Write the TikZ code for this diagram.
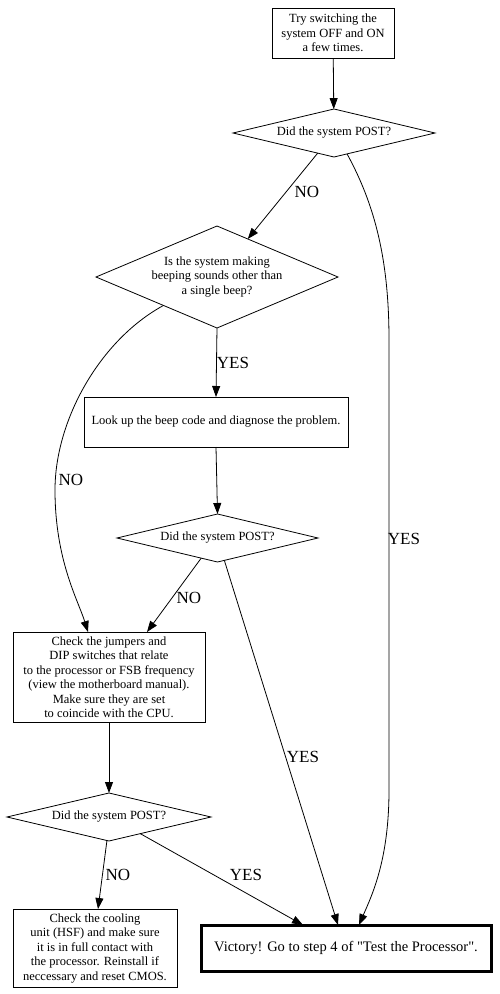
\documentclass[tikz,border=0pt]{standalone}
\usepackage{fontspec}
\setmainfont{Liberation Serif}
\newfontfamily\vicfont{Liberation Serif}
\usetikzlibrary{shapes.geometric,arrows.meta}
\begin{document}
\begin{tikzpicture}[x=1pt,y=-1pt,
  every node/.style={inner sep=0pt, outer sep=0pt},
  txt/.style={font=\fontsize{12.5}{14.5}\selectfont},
  box/.style={draw, line width=0.8pt, rectangle, align=center, txt},
  dia/.style={draw, line width=0.8pt, diamond, align=center, txt},
  lbl/.style={font=\fontsize{17}{20}\selectfont},
  arr/.style={line width=0.8pt, -{Triangle[length=11pt,width=8pt]}},
]
\useasboundingbox (0,0) rectangle (499,994);

\node[box, minimum width=122pt, minimum height=50pt] (top) at (333,33)
  {Try switching the\\system OFF and ON\\a few times.};
\node[dia, aspect=4.2, minimum width=202pt, minimum height=48pt] (d1) at (334,133)
  {Did the system POST?};
\node[dia, aspect=2.37, minimum width=242pt, minimum height=102pt] (d2) at (217,277)
  {Is the system making\\beeping sounds other than\\a single beep?};
\node[box, minimum width=264pt, minimum height=50pt] (look) at (216,422)
  {Look up the beep code and diagnose the problem.};
\node[dia, aspect=4.2, minimum width=201pt, minimum height=48pt] (d3) at (217.5,538)
  {Did the system POST?};
\node[box, minimum width=192pt, minimum height=90pt] (jump) at (109,677)
  {Check the jumpers and\\DIP switches that relate\\to the processor or FSB frequency\\(view the motherboard manual).\\Make sure they are set\\to coincide with the CPU.};
\node[dia, aspect=4.2, minimum width=204pt, minimum height=48pt] (d4) at (109,817)
  {Did the system POST?};
\node[box, minimum width=164pt, minimum height=78pt] (cool) at (95,948)
  {Check the cooling\\unit (HSF) and make sure\\it is in full contact with\\the processor. Reinstall if\\neccessary and reset CMOS.};
\node[draw, line width=3pt, rectangle, minimum width=290pt, minimum height=46pt,
  font=\vicfont\fontsize{14.5}{17}\selectfont] (vic) at (346,948)
  {Victory! Go to step 4 of "Test the Processor".};

\draw[arr] (top) -- (d1);
\draw[arr] (d1.231) -- (d2.51);
\node[lbl] (l1) at (307,192) {NO};
\draw[arr] (d1.302) .. controls (375,205) and (389,260) .. (389,340)
  -- (389,790) .. controls (389,860) and (372,895) .. ([xshift=13pt]vic.north);
\node[lbl] (l2) at (404,539) {YES};
\draw[arr] (d2.south) -- (look.north);
\node[lbl] (l3) at (233,363) {YES};
\draw[arr] (d2.208) .. controls (100,340) and (55,420) .. (55,490)
  .. controls (55,560) and (78,600) .. ([xshift=-21pt]jump.north);
\node[lbl] (l4) at (71,480) {NO};
\draw[arr] (look.south) -- (d3.north);
\draw[arr] (d3.231.5) -- ([xshift=38pt]jump.north);
\node[lbl] (l5) at (189,598) {NO};
\draw[arr] (d3.287) -- ([xshift=-8pt]vic.north);
\node[lbl] (l6) at (303,757) {YES};
\draw[arr] (jump.south) -- (d4.north);
\draw[arr] (d4.265) -- ([xshift=3pt]cool.north);
\node[lbl] (l7) at (118,875) {NO};
\draw[arr] (d4.332) -- ([xshift=-43pt]vic.north);
\node[lbl] (l8) at (246,875) {YES};
\end{tikzpicture}
\end{document}
